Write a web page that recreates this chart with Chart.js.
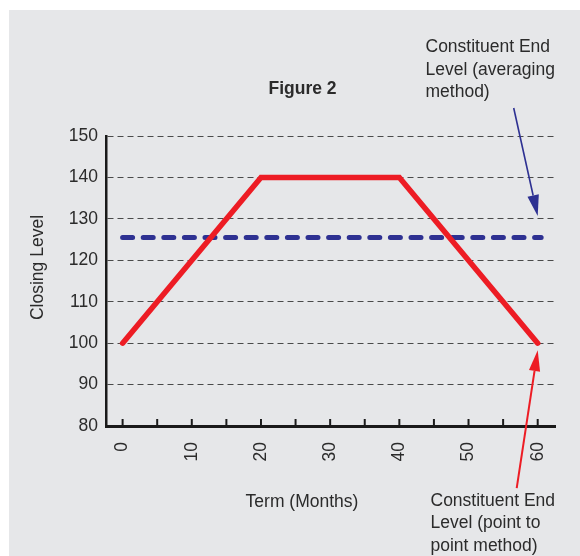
<!DOCTYPE html>
<html>
<head>
<meta charset="utf-8">
<script src="https://cdn.jsdelivr.net/npm/chart.js@4/dist/chart.umd.min.js"></script>
<style>
html,body{margin:0;padding:0;background:#ffffff;overflow:hidden}
#wrap{position:relative;width:580px;height:556px}
</style>
</head>
<body>
<div id="wrap"><canvas id="c" width="580" height="556"></canvas></div>
<script>
// ---- data ----
const terms = [0, 20, 40, 60];
const pointToPointLevel = [100, 140, 140, 100];
const averagingTerms = [0, 60.5];
const averagingLevel = [125.5, 125.5];
const xTickValues = [0, 5, 10, 15, 20, 25, 30, 35, 40, 45, 50, 55, 60];
const yTickValues = [80, 90, 100, 110, 120, 130, 140, 150];
const chartTitle = 'Figure 2';
const xTitle = 'Term (Months)';
const yTitle = 'Closing Level';
const noteAveraging = ['Constituent End', 'Level (averaging', 'method)'];
const notePointToPoint = ['Constituent End', 'Level (point to', 'point method)'];
// arrow targets (data space)
const avgArrowTarget = [60, 130.7];
const ptpArrowTarget = [60, 98.3];

const FONT = '"Liberation Sans", Arial, Helvetica, sans-serif';
const TEXT = '#2b2b2b';
const RED = '#ed1c24';
const BLUE = '#2e3192';

function arrow(ctx, x0, y0, x1, y1, color, w, headLen, headHalf) {
  const ang = Math.atan2(y1 - y0, x1 - x0);
  const bx = x1 - headLen * Math.cos(ang), by = y1 - headLen * Math.sin(ang);
  ctx.save();
  ctx.strokeStyle = color; ctx.fillStyle = color; ctx.lineWidth = w;
  ctx.beginPath(); ctx.moveTo(x0, y0); ctx.lineTo(bx, by); ctx.stroke();
  ctx.beginPath();
  ctx.moveTo(x1, y1);
  ctx.lineTo(bx + headHalf * Math.sin(ang), by - headHalf * Math.cos(ang));
  ctx.lineTo(bx - headHalf * Math.sin(ang), by + headHalf * Math.cos(ang));
  ctx.closePath(); ctx.fill();
  ctx.restore();
}

const decor = {
  id: 'decor',
  beforeDraw(chart) {
    const ctx = chart.ctx;
    ctx.save();
    ctx.fillStyle = '#ffffff';
    ctx.fillRect(0, 0, chart.width, chart.height);
    ctx.fillStyle = '#e6e7e9';
    ctx.fillRect(9, 10, chart.width - 9, chart.height - 10);
    ctx.restore();
  },
  afterDraw(chart) {
    const ctx = chart.ctx;
    const xs = chart.scales.x, ys = chart.scales.y;
    const area = chart.chartArea;
    ctx.save();
    // x tick marks (inside the plot, above the axis)
    ctx.strokeStyle = '#1a1a1a';
    ctx.lineWidth = 2;
    xs.ticks.forEach(t => {
      const px = xs.getPixelForValue(t.value);
      ctx.beginPath(); ctx.moveTo(px, area.bottom - 7); ctx.lineTo(px, area.bottom); ctx.stroke();
    });
    // titles
    ctx.fillStyle = TEXT;
    ctx.textBaseline = 'alphabetic';
    ctx.textAlign = 'center';
    ctx.font = 'bold 17.5px ' + FONT;
    ctx.fillText(chartTitle, 302.5, 94);
    ctx.font = '17.5px ' + FONT;
    ctx.fillText(xTitle, 302, 506.5);
    ctx.save();
    ctx.translate(38, 267.5);
    ctx.rotate(-Math.PI / 2);
    ctx.textBaseline = 'middle';
    ctx.fillText(yTitle, 0, 0);
    ctx.restore();
    // notes
    ctx.textAlign = 'left';
    noteAveraging.forEach((s, i) => ctx.fillText(s, 425.5, 52 + i * 22.5));
    notePointToPoint.forEach((s, i) => ctx.fillText(s, 430.5, 506 + i * 22.3));
    // arrows
    const bx = xs.getPixelForValue(avgArrowTarget[0]), by = ys.getPixelForValue(avgArrowTarget[1]);
    arrow(ctx, bx - 24, by - 108, bx, by, BLUE, 1.6, 21, 5.8);
    const rx = xs.getPixelForValue(ptpArrowTarget[0]), ry = ys.getPixelForValue(ptpArrowTarget[1]);
    arrow(ctx, rx - 21, ry + 138, rx, ry, RED, 2, 21, 5.6);
    ctx.restore();
  }
};

new Chart(document.getElementById('c'), {
  type: 'line',
  data: {
    datasets: [
      {
        label: 'Point to point',
        data: terms.map((t, i) => ({x: t, y: pointToPointLevel[i]})),
        borderColor: RED, borderWidth: 5.5, tension: 0,
        pointRadius: 0, borderCapStyle: 'round', borderJoinStyle: 'miter', fill: false
      },
      {
        label: 'Averaging',
        data: averagingTerms.map((t, i) => ({x: t, y: averagingLevel[i]})),
        borderColor: BLUE, borderWidth: 5, tension: 0,
        pointRadius: 0, borderCapStyle: 'round', borderDash: [10, 10.6], fill: false
      }
    ]
  },
  options: {
    responsive: false,
    animation: false,
    devicePixelRatio: 1,
    layout: {padding: {left: 0, right: 25, top: 136, bottom: 0}},
    plugins: {legend: {display: false}, tooltip: {enabled: false}, title: {display: false}},
    scales: {
      x: {
        type: 'linear', min: -2.4, max: 62.5,
        afterBuildTicks: s => { s.ticks = xTickValues.map(v => ({value: v})); },
        afterFit: s => { s.height = 130; },
        grid: {display: false, drawTicks: false},
        border: {display: true, color: '#1a1a1a', width: 3},
        ticks: {
          autoSkip: false, minRotation: 90, maxRotation: 90, padding: 16,
          color: TEXT, font: {family: FONT, size: 17.5},
          callback: v => (v % 10 === 0 ? String(v) : '')
        }
      },
      y: {
        type: 'linear', min: 80, max: 150,
        afterBuildTicks: s => { s.ticks = yTickValues.map(v => ({value: v})); },
        afterFit: s => { s.width = 106; },
        grid: {display: true, drawTicks: false, color: '#4a4a4a', lineWidth: 1},
        border: {display: true, color: '#1a1a1a', width: 2.5, dash: [6, 4]},
        ticks: {padding: 8, color: TEXT, font: {family: FONT, size: 17.5}}
      }
    }
  },
  plugins: [decor]
});
</script>
</body>
</html>
